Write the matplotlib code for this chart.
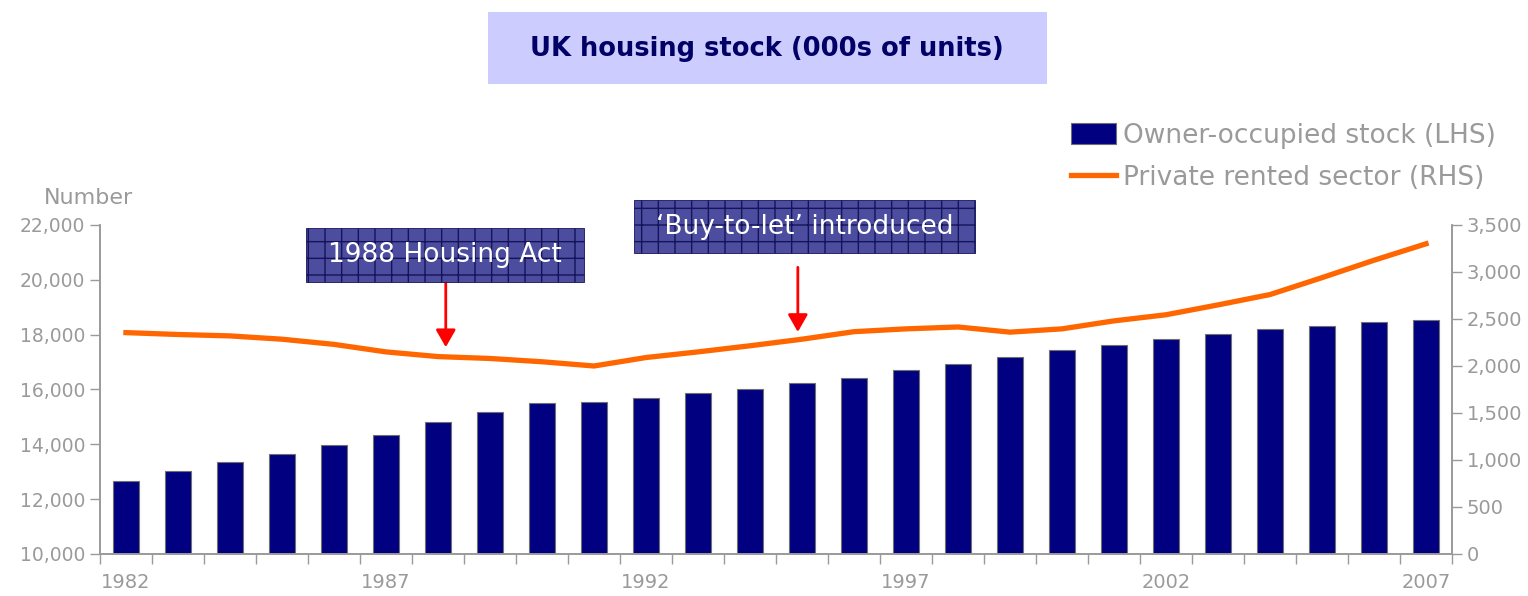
import matplotlib
matplotlib.use("Agg")
import matplotlib.pyplot as plt
from matplotlib.patches import Rectangle
from matplotlib.ticker import FuncFormatter

years = list(range(1982, 2008))
owner_occupied = [12650, 13030, 13340, 13660, 13980, 14350, 14800, 15180, 15500, 15560,
                  15680, 15860, 16020, 16240, 16430, 16700, 16940, 17200, 17450, 17630,
                  17830, 18010, 18210, 18330, 18450, 18520]
private_rented = [2355, 2335, 2320, 2285, 2230, 2150, 2100, 2080, 2045, 2000,
                  2090, 2150, 2215, 2285, 2365, 2395, 2415, 2360, 2395, 2480,
                  2545, 2650, 2760, 2940, 3125, 3300]
label_years = [1982, 1987, 1992, 1997, 2002, 2007]
events = [(1988, "1988 Housing Act"), (1995, "\u2018Buy-to-let\u2019 introduced")]

grey = "#9a9a9a"
navy = "#000080"
orange = "#ff6600"
W, H = 1528, 596

plt.rcParams['font.family'] = ['DejaVu Sans']
plt.rcParams['hatch.color'] = "#14145a"
plt.rcParams['hatch.linewidth'] = 1.0

fig = plt.figure(figsize=(W / 100, H / 100), dpi=100)
ax = fig.add_axes([0.0654, 0.0705, 0.8849, 0.552])
ax2 = ax.twinx()

xs = [i + 0.5 for i in range(len(years))]
ax.bar(xs, owner_occupied, width=0.5, color=navy, edgecolor="#707070", linewidth=0.8,
       label="Owner-occupied stock (LHS)", zorder=2)
ax2.plot(xs, private_rented, color=orange, lw=3.8, solid_joinstyle="miter",
         label="Private rented sector (RHS)")

ax.set_xlim(0, len(years))
ax.set_ylim(10000, 22000)
ax.set_yticks(range(10000, 22001, 2000))
ax2.set_ylim(0, 3500)
ax2.set_yticks(range(0, 3501, 500))
comma = FuncFormatter(lambda v, p: f"{int(v):,}")
ax.yaxis.set_major_formatter(comma)
ax2.yaxis.set_major_formatter(comma)

# category boundary ticks, labels at centres
ax.set_xticks(range(len(years) + 1))
ax.set_xticklabels([])
ax.set_xticks([years.index(y) + 0.5 for y in label_years], minor=True)
ax.set_xticklabels([str(y) for y in label_years], minor=True)
ax.tick_params(axis="x", which="major", length=7, width=1, color=grey, direction="out")
ax.tick_params(axis="x", which="minor", length=0, pad=14, labelsize=14, labelcolor=grey)
ax.tick_params(axis="y", length=7, width=1, color=grey, labelsize=13.5, labelcolor=grey)
ax2.tick_params(axis="y", length=7, width=1, color=grey, labelsize=14, labelcolor=grey)

for a in (ax, ax2):
    a.spines["top"].set_visible(False)
    for s in ("left", "right", "bottom"):
        a.spines[s].set_color(grey)
        a.spines[s].set_linewidth(1.2)

fig.text(89 / W, 1 - 198 / H, "Number", ha="center", va="center",
         fontsize=16, color=grey)

# annotation boxes (left, top, right, bottom in pixels) with arrows
boxes = [(306, 228, 584, 282), (634, 200, 975, 253)]
arrow_y = [(2894, 2200), (3050, 2362)]
arrow_x = [years.index(1988) + 0.65, years.index(1995) + 0.42]
for (yr, txt), (l, t, r, b), (y0, y1), axx in zip(events, boxes, arrow_y, arrow_x):
    fig.patches.append(Rectangle((l / W, 1 - b / H), (r - l) / W, (b - t) / H,
                                 transform=fig.transFigure, facecolor="#4d4da0",
                                 edgecolor="#14145a", linewidth=0.6, hatch="+"))
    fig.text((l + r) / 2 / W, 1 - (t + b) / 2 / H, txt, ha="center", va="center",
             fontsize=19, color="white")
    ax2.annotate("", xy=(axx, y1), xytext=(axx, y0),
                 arrowprops=dict(arrowstyle="-|>,head_length=1.05,head_width=0.6",
                                 color="red", lw=2, shrinkA=0, shrinkB=0))

# title box
fig.patches.append(Rectangle((488 / W, 1 - 84 / H), 559 / W, 72 / H,
                             transform=fig.transFigure, facecolor="#ccccff",
                             edgecolor="none"))
fig.text(767 / W, 1 - 49 / H, "UK housing stock (000s of units)", ha="center",
         va="center", fontsize=18.5, fontweight="bold", color="#000066")

h1, l1 = ax.get_legend_handles_labels()
h2, l2 = ax2.get_legend_handles_labels()
leg = fig.legend(h1 + h2, l1 + l2, loc="upper right", bbox_to_anchor=(0.991, 0.825),
                 frameon=False, fontsize=19, handlelength=1.7, handleheight=0.83,
                 handletextpad=0.25, labelspacing=0.62, borderpad=0.2)
for t in leg.get_texts():
    t.set_color(grey)

fig.savefig("out.png", dpi=100)
